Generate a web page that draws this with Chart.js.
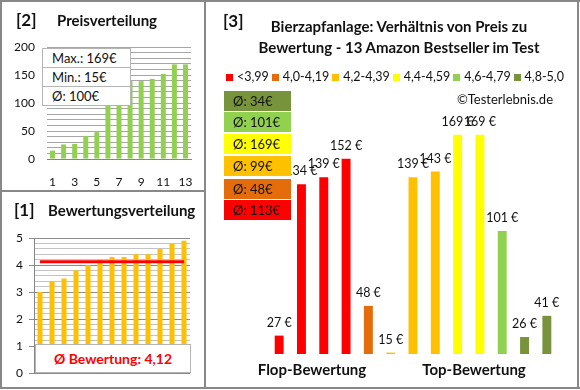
<!DOCTYPE html>
<html>
<head>
<meta charset="utf-8">
<script src="https://cdn.jsdelivr.net/npm/chart.js@4.4.1/dist/chart.umd.min.js"></script>
<style>
  body { margin: 0; background: #fff; font-family: Lato, "Liberation Sans", sans-serif; color: #111; }
  #wrap { position: relative; width: 580px; height: 390px; overflow: hidden; background: #fff; }
  canvas { position: absolute; }
  .rule { position: absolute; background: #888; }
  .txt { position: absolute; white-space: nowrap; line-height: 20px; height: 20px; }
  .head { font-weight: bold; font-size: 15px; }
  .num { font-weight: bold; font-size: 17px; }
  .center { transform: translateX(-50%); }
  #stats { position: absolute; left: 42px; top: 48px; width: 87px; background: #fff; border: 1px solid #b4b4b4; }
  #stats div { height: 18px; line-height: 18px; font-size: 13px; padding-left: 9px; border-top: 1px solid #b4b4b4; }
  #stats div:first-child { border-top: none; }
  #ratingBox { position: absolute; left: 35px; top: 344px; width: 154px; height: 27px; background: #fff; border: 1px solid #b4b4b4;
    color: #ff0000; font-weight: bold; font-size: 14px; line-height: 27px; text-align: center; }
  #legend { position: absolute; top: 70px; left: 226px; width: 338px; display: flex; justify-content: space-between;
    font-size: 12.5px; line-height: 14px; white-space: nowrap; }
  #legend span.item { display: flex; align-items: center; flex-shrink: 0; }
  #legend span.sw { width: 7px; height: 7px; margin-right: 4px; display: inline-block; }
  .avg { position: absolute; left: 224px; width: 67px; height: 20px; line-height: 20px; font-size: 13px; box-sizing: border-box; padding-left: 9px; }
</style>
</head>
<body>
<div id="wrap">
  <canvas id="priceChart" width="204" height="190" style="left:0;top:0;width:204px;height:190px"></canvas>
  <canvas id="ratingChart" width="204" height="197" style="left:0;top:191px;width:204px;height:197px"></canvas>
  <canvas id="ratioChart" width="372" height="388" style="left:206px;top:0;width:372px;height:388px"></canvas>

  <div class="rule" style="left:0;top:0;width:580px;height:2px"></div>
  <div class="rule" style="left:0;top:387px;width:580px;height:2px"></div>
  <div class="rule" style="left:0;top:0;width:2px;height:389px"></div>
  <div class="rule" style="left:577px;top:0;width:2px;height:389px"></div>
  <div class="rule" style="left:204px;top:0;width:2px;height:389px"></div>
  <div class="rule" style="left:0;top:190px;width:205px;height:2px"></div>

  <div class="txt num" style="left:16px;top:10px">[2]</div>
  <div class="txt head" style="left:57px;top:10px">Preisverteilung</div>
  <div class="txt num" style="left:14px;top:200px">[1]</div>
  <div class="txt head" style="left:48px;top:200px">Bewertungsverteilung</div>
  <div class="txt num" style="left:223px;top:11px">[3]</div>
  <div class="txt head center" style="left:399px;top:16px">Bierzapfanlage: Verhältnis von Preis zu</div>
  <div class="txt head center" style="left:399px;top:37px">Bewertung - 13 Amazon Bestseller im Test</div>
  <div class="txt" style="right:27px;top:89px;font-size:13px">©Testerlebnis.de</div>
  <div class="txt head center" style="left:312px;top:359px">Flop-Bewertung</div>
  <div class="txt head center" style="left:474px;top:359px">Top-Bewertung</div>

  <div id="stats"></div>
  <div id="ratingBox"></div>
  <div id="legend"></div>
  <div id="avgBoxes"></div>
</div>

<script>
// [2] prices sorted ascending
const rankLabels = ["1", "2", "3", "4", "5", "6", "7", "8", "9", "10", "11", "12", "13"];
const sortedPrices = [15, 26, 27, 41, 48, 101, 134, 139, 139, 143, 152, 169, 169];
const priceStats = ["Max.: 169€", "Min.: 15€", "Ø: 100€"];

// [1] ratings sorted ascending
const sortedRatings = [3.0, 3.4, 3.5, 3.8, 4.0, 4.2, 4.3, 4.3, 4.4, 4.4, 4.6, 4.8, 4.9];
const avgRating = 4.12;
const avgRatingText = "Ø Bewertung: 4,12";

// [3] price per product, grouped by rating
const productPrices = [27, 134, 139, 152, 48, 15, 139, 143, 169, 169, 101, 26, 41];
const productGroups = [0, 0, 0, 0, 1, 2, 2, 2, 3, 3, 4, 5, 5];
const groupLabels = ["<3,99", "4,0-4,19", "4,2-4,39", "4,4-4,59", "4,6-4,79", "4,8-5,0"];
const groupAverages = [113, 48, 99, 169, 101, 34];

const groupColors = ["#FF0000", "#E46C0A", "#FFC000", "#FFFF00", "#92D050", "#77933C"];
const FONT = "Lato";
const TEXT = "#111";

// price stats box
document.getElementById("stats").innerHTML = priceStats.map((s) => `<div>${s}</div>`).join("");
document.getElementById("ratingBox").textContent = avgRatingText;

// legend for [3]
document.getElementById("legend").innerHTML = groupLabels
  .map((l, i) => `<span class="item"><span class="sw" style="background:${groupColors[i]}"></span>${l.replace("<", "&lt;")}</span>`)
  .join("");

// average boxes, best group on top
const boxTops = [91, 112, 134, 156, 179, 200];
let boxHtml = "";
for (let k = 0; k < groupAverages.length; k++) {
  const g = groupAverages.length - 1 - k;
  boxHtml += `<div class="avg" style="top:${boxTops[k]}px;background:${groupColors[g]}">Ø: ${groupAverages[g]}€</div>`;
}
document.getElementById("avgBoxes").innerHTML = boxHtml;

Chart.defaults.font.family = FONT;
Chart.defaults.color = TEXT;
Chart.defaults.animation = false;

// [2] Preisverteilung
new Chart(document.getElementById("priceChart"), {
  type: "bar",
  data: {
    labels: rankLabels,
    datasets: [{ data: sortedPrices, backgroundColor: "#92D050", barPercentage: 0.45, categoryPercentage: 1 }],
  },
  options: {
    responsive: false,
    layout: { padding: { top: 47, right: 13, left: 0, bottom: 0 } },
    plugins: { legend: { display: false }, tooltip: { enabled: false } },
    scales: {
      x: {
        grid: { display: false },
        border: { color: "#868686" },
        ticks: {
          autoSkip: false,
          maxRotation: 0,
          padding: 8,
          font: { size: 12 },
          callback: (v, i) => (i % 2 === 0 ? rankLabels[i] : ""),
        },
        afterFit: (s) => { s.height = 31; },
      },
      y: {
        min: 0,
        max: 200,
        border: { display: false },
        grid: { color: "#a6a6a6", drawTicks: false },
        ticks: {
          stepSize: 10,
          autoSkip: false,
          padding: 12,
          font: { size: 12 },
          callback: (v) => (v % 50 === 0 ? String(v) : ""),
        },
        afterFit: (s) => { s.width = 47; },
      },
    },
  },
});

// [1] Bewertungsverteilung
const isWhole = (v) => Math.abs(v - Math.round(v)) < 1e-6;
new Chart(document.getElementById("ratingChart"), {
  type: "bar",
  data: {
    labels: rankLabels,
    datasets: [
      {
        type: "line",
        data: rankLabels.map(() => avgRating),
        borderColor: "#FF0000",
        borderWidth: 3,
        pointRadius: 0,
        order: 0,
      },
      { data: sortedRatings, backgroundColor: "#FFC000", barPercentage: 0.42, categoryPercentage: 1, order: 1 },
    ],
  },
  options: {
    responsive: false,
    layout: { padding: { top: 47, right: 14, left: 0, bottom: 15 } },
    plugins: { legend: { display: false }, tooltip: { enabled: false } },
    scales: {
      x: { display: false },
      y: {
        min: 0,
        max: 5,
        border: { color: "#868686" },
        grid: {
          color: (c) => (isWhole(c.tick.value) ? "#8c8c8c" : "#c4c4c4"),
          tickColor: (c) => (isWhole(c.tick.value) ? "#8c8c8c" : "rgba(0,0,0,0)"),
          tickLength: 5,
        },
        ticks: {
          stepSize: 0.2,
          autoSkip: false,
          padding: 6,
          font: { size: 12 },
          callback: (v) => (isWhole(v) ? String(Math.round(v)) : ""),
        },
        afterFit: (s) => { s.width = 34; },
      },
    },
  },
});

// [3] price per product, coloured by rating group
const barValueLabels = {
  id: "barValueLabels",
  afterDatasetsDraw(chart) {
    const ctx = chart.ctx;
    const meta = chart.getDatasetMeta(0);
    ctx.save();
    ctx.font = "12.5px " + FONT;
    ctx.fillStyle = TEXT;
    ctx.textAlign = "center";
    ctx.textBaseline = "middle";
    meta.data.forEach((bar, i) => {
      ctx.fillText(productPrices[i] + " €", bar.x, bar.y - 13);
    });
    ctx.restore();
  },
};

new Chart(document.getElementById("ratioChart"), {
  type: "bar",
  data: {
    labels: rankLabels,
    datasets: [
      {
        data: productPrices,
        backgroundColor: productGroups.map((g) => groupColors[g]),
        barPercentage: 0.4,
        categoryPercentage: 1,
      },
    ],
  },
  options: {
    responsive: false,
    layout: { padding: { top: 91, right: 20, left: 62, bottom: 34 } },
    plugins: { legend: { display: false }, tooltip: { enabled: false } },
    scales: {
      x: { display: false },
      y: { display: false, min: 14, max: 200 },
    },
  },
  plugins: [barValueLabels],
});
</script>
</body>
</html>
